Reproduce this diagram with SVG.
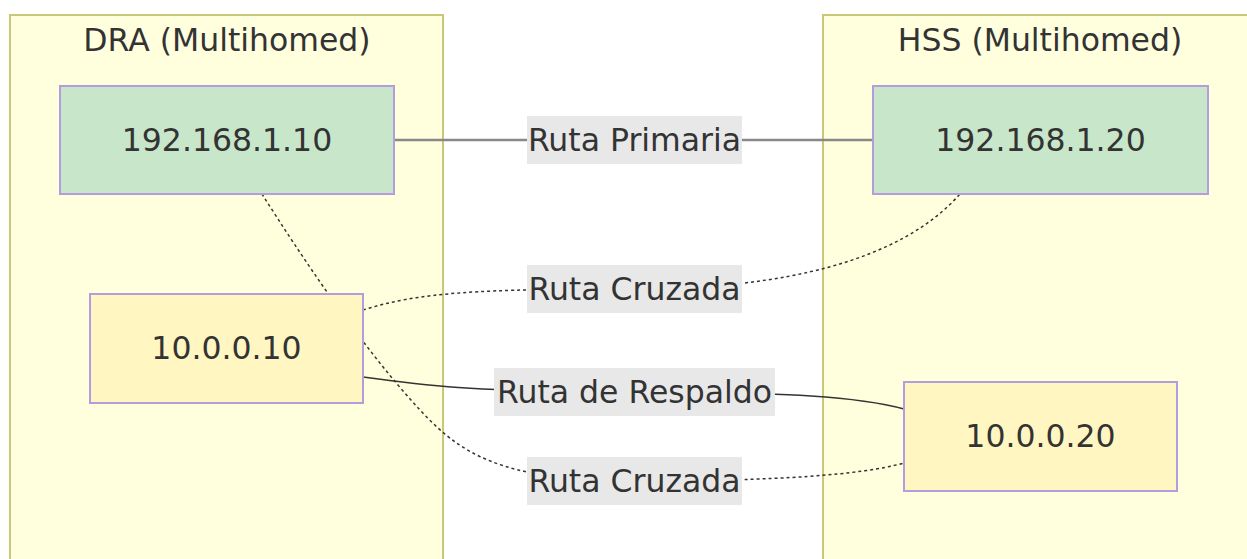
<svg xmlns="http://www.w3.org/2000/svg" width="1247" height="559" viewBox="0 0 1247 559">
<style>
.cluster{fill:#ffffde;stroke:#c8c878;stroke-width:2}
.title{font-family:"DejaVu Sans",sans-serif;font-size:31.5px;fill:#333;text-anchor:middle}
.green{fill:#c8e6c9;stroke:#b49ddc;stroke-width:2}
.yellow{fill:#fff6c2;stroke:#b49ddc;stroke-width:2}
.ntext{font-family:"DejaVu Sans",sans-serif;font-size:31.5px;fill:#333;text-anchor:middle}
.edge{fill:none;stroke:#333;stroke-width:1.5}
.primary{stroke:#888;stroke-width:2.5}
.dotted{stroke-dasharray:3 3}
.lblbg{fill:#e8e8e8}
</style>
<rect width="1247" height="559" fill="#ffffff"/>
<g id="cluster-dra">
<rect class="cluster" x="10" y="15" width="433" height="560"/>
<text class="title" x="227" y="51">DRA (Multihomed)</text>
</g>
<g id="cluster-hss">
<rect class="cluster" x="823" y="15" width="440" height="560"/>
<text class="title" x="1040" y="51">HSS (Multihomed)</text>
</g>
<g id="connectors">
<path class="edge primary" d="M394,140 L873,140"/>
<path class="edge dotted" d="M363,310 C420,292 480,289 634,289 C780,289 900,262 960,194"/>
<path class="edge" d="M363,377 C420,385 470,392 634,392 C790,392 860,397 904,409"/>
<path class="edge dotted" d="M262,194 C300,254 360,345 420,410 C460,453 500,481 634,481 C780,481 860,475 904,463"/>
</g>
<g id="labels">
<g id="label-primaria"><rect class="lblbg" x="527" y="116" width="215" height="48"/><text class="ntext" x="634.5" y="151">Ruta Primaria</text></g>
<g id="label-cruzada1"><rect class="lblbg" x="527" y="265" width="215" height="48"/><text class="ntext" x="634.5" y="300">Ruta Cruzada</text></g>
<g id="label-respaldo"><rect class="lblbg" x="494" y="368" width="281" height="48"/><text class="ntext" x="634.5" y="403">Ruta de Respaldo</text></g>
<g id="label-cruzada2"><rect class="lblbg" x="527" y="457" width="215" height="48"/><text class="ntext" x="634.5" y="492">Ruta Cruzada</text></g>
</g>
<g id="node-dra-primary">
<rect class="green" x="60" y="86" width="334" height="108"/>
<text class="ntext" x="227" y="151">192.168.1.10</text>
</g>
<g id="node-dra-secondary">
<rect class="yellow" x="90" y="294" width="273" height="109"/>
<text class="ntext" x="226.5" y="359">10.0.0.10</text>
</g>
<g id="node-hss-primary">
<rect class="green" x="873" y="86" width="335" height="108"/>
<text class="ntext" x="1040.5" y="151">192.168.1.20</text>
</g>
<g id="node-hss-secondary">
<rect class="yellow" x="904" y="382" width="273" height="109"/>
<text class="ntext" x="1040.5" y="447">10.0.0.20</text>
</g>
</svg>
